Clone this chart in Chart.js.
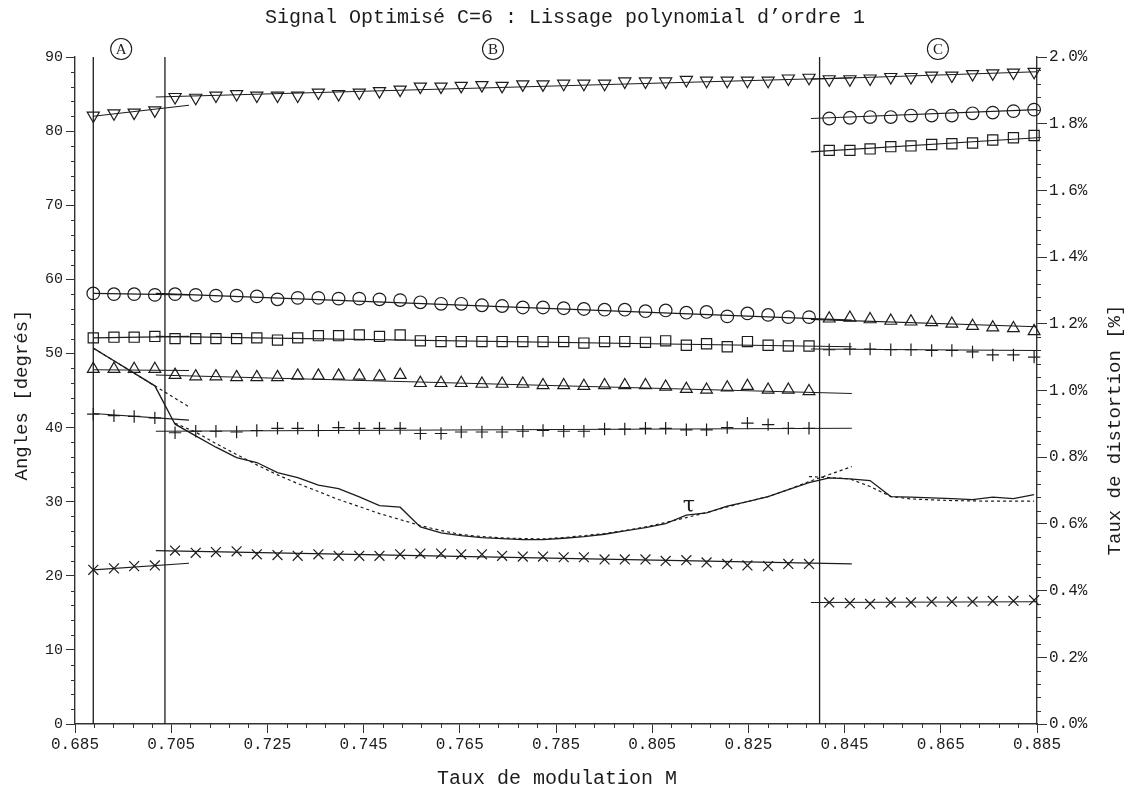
<!DOCTYPE html>
<html><head><meta charset="utf-8">
<script src="https://cdn.jsdelivr.net/npm/chart.js@4.4.1/dist/chart.umd.min.js"></script>
<style>html,body{margin:0;padding:0;background:#fff}#wrap{width:1130px;height:796px}</style>
</head><body><div id="wrap"><canvas id="c" width="1130" height="796"></canvas></div>
<script>
// ---- data ----
const M = [0.6888,0.6931,0.6973,0.7016,0.7058,0.7101,0.7143,0.7186,0.7228,0.7271,
           0.7313,0.7356,0.7398,0.7441,0.7483,0.7526,0.7568,0.7611,0.7653,0.7696,
           0.7738,0.7781,0.7823,0.7866,0.7908,0.7951,0.7993,0.8036,0.8078,0.8121,
           0.8163,0.8206,0.8248,0.8291,0.8333,0.8376,0.8418,0.8461,0.8503,0.8546,
           0.8588,0.8631,0.8673,0.8716,0.8758,0.8801,0.8844];
const triDown = [82.1,82.4,82.5,82.8, 84.6,84.5,84.8,85.0,84.8,84.8,84.8,85.2,85.0,85.2,
                 85.4,85.6,86.0,86.0,86.1,86.2,86.1,86.3,86.3,86.4,86.4,86.4,86.7,86.7,86.7,86.9,
                 86.8,86.8,86.8,86.8,87.1,87.2, 87.0,87.0,87.1,87.3,87.3,87.5,87.5,87.7,87.8,87.9,88.0];
const circle = [58.1,58.0,58.0,57.9, 58.0,57.9,57.8,57.8,57.7,57.3,57.5,57.5,57.4,57.4,
                57.3,57.2,56.9,56.7,56.7,56.5,56.4,56.2,56.2,56.1,56.0,55.9,55.9,55.7,55.8,55.5,
                55.6,55.0,55.4,55.2,54.9,54.9, 81.7,81.8,81.9,81.9,82.1,82.1,82.1,82.4,82.5,82.7,82.9];
const square = [52.1,52.2,52.2,52.3, 52.0,52.0,52.0,52.0,52.1,51.8,52.1,52.4,52.4,52.5,
                52.3,52.5,51.7,51.6,51.6,51.6,51.6,51.6,51.6,51.6,51.4,51.6,51.6,51.5,51.7,51.1,
                51.3,50.9,51.6,51.1,51.0,51.0, 77.4,77.4,77.6,77.9,78.0,78.2,78.3,78.4,78.8,79.1,79.4];
const triUp = [47.9,47.9,47.9,47.9, 47.1,46.9,46.9,46.8,46.8,46.8,47.0,47.0,47.0,47.0,
               46.9,47.1,46.0,46.0,46.0,45.9,45.9,45.9,45.7,45.7,45.6,45.7,45.7,45.7,45.5,45.2,
               45.1,45.4,45.6,45.1,45.1,44.9, 54.7,54.8,54.6,54.4,54.3,54.2,54.0,53.7,53.5,53.4,53.0];
const plus = [41.8,41.6,41.5,41.3, 39.3,39.5,39.5,39.4,39.6,39.9,39.9,39.6,40.0,39.9,
              39.9,39.9,39.2,39.2,39.4,39.4,39.4,39.5,39.6,39.5,39.5,39.8,39.8,39.9,39.9,39.7,
              39.7,40.0,40.6,40.4,39.9,39.9, 50.5,50.6,50.6,50.5,50.5,50.4,50.4,50.2,49.8,49.8,49.5];
const cross = [20.8,21.0,21.3,21.4, 23.4,23.1,23.2,23.3,22.9,22.8,22.7,22.9,22.7,22.7,
               22.7,22.9,23.0,23.0,22.9,22.9,22.7,22.6,22.6,22.5,22.5,22.2,22.2,22.2,22.0,22.1,
               21.8,21.6,21.4,21.3,21.6,21.6, 16.4,16.3,16.2,16.4,16.4,16.5,16.5,16.5,16.6,16.6,16.7];
const tau = [1.127,1.089,1.052,1.014,0.899,0.864,0.830,0.799,0.784,0.754,
             0.739,0.716,0.706,0.681,0.655,0.650,0.591,0.573,0.565,0.559,
             0.556,0.553,0.553,0.557,0.562,0.569,0.579,0.589,0.601,0.626,
             0.633,0.653,0.667,0.682,0.703,0.724,0.738,0.735,0.730,0.682,
             0.680,0.678,0.676,0.673,0.680,0.676,0.688];
// fitted distortion (dotted), per region
const tauFitAM = [0.6888, 0.7087];
const tauFitA = [1.127, 0.951];
const tauFitBM = M.slice(4, 37).concat([0.8465]);
const tauFitB = [0.902,0.875,0.841,0.808,0.777,0.747,0.721,0.697,0.673,0.652,
                 0.631,0.613,0.595,0.580,0.568,0.562,0.558,0.556,0.555,0.559,
                 0.565,0.571,0.580,0.591,0.604,0.619,0.634,0.651,0.667,0.682,
                 0.703,0.727,0.748,0.772];
const tauFitCM = M.slice(35);
const tauFitC = [0.742,0.739,0.735,0.712,0.682,0.675,0.672,0.670,0.669,0.668,0.668,0.668];
// linear fits of the angles: [start, end] in each region
const fitRangeA = [0.6888, 0.7087];
const fitRangeB = [0.7018, 0.8465];
const fitRangeC = [0.8380, 0.885];
const triDownFit = [[82.0, 83.5], [84.6, 87.2], [87.0, 88.0]];
const circleFit  = [[58.1, 57.9], [58.1, 54.5], [81.7, 82.9]];
const squareFit  = [[52.1, 52.3], [52.3, 50.9], [77.2, 79.1]];
const triUpFit   = [[47.8, 47.7], [47.1, 44.6], [54.6, 53.6]];
const plusFit    = [[41.9, 41.0], [39.5, 39.9], [50.6, 50.4]];
const crossFit   = [[20.8, 21.7], [23.4, 21.6], [16.4, 16.5]];
// region boundaries and labels
const regionLines = [0.6888, 0.7037, 0.8398];
const regionNames = ['A', 'B', 'C'];
const regionLabelM = [0.6946, 0.7719, 0.8644];
const tauLabel = {m: 0.8126, v: 0.652};

// ---- chart ----
const INK = '#1c1c1c';
const MONO = '"Liberation Mono", "DejaVu Sans Mono", monospace';
const pts = (xs, ys) => ys.map((v, i) => ({x: xs[i], y: v}));
function markers(vals, style, r, rot) {
  return {type: 'scatter', data: pts(M, vals), yAxisID: 'y', showLine: false, clip: false,
    pointStyle: style, pointRadius: r, pointHoverRadius: r, pointRotation: rot || 0,
    pointBorderColor: INK, pointBackgroundColor: 'rgba(0,0,0,0)', pointBorderWidth: 1.2,
    borderColor: INK, backgroundColor: 'rgba(0,0,0,0)'};
}
function line(data, axis, width, dash) {
  return {type: 'line', data, yAxisID: axis, borderColor: INK, borderWidth: width,
    borderDash: dash || [], pointRadius: 0, pointHoverRadius: 0, fill: false, tension: 0};
}
const ranges = [fitRangeA, fitRangeB, fitRangeC];
const datasets = [];
[triDownFit, circleFit, squareFit, triUpFit, plusFit, crossFit].forEach(f => {
  f.forEach((ends, k) => datasets.push(line(pts(ranges[k], ends), 'y', 1.1)));
});
regionLines.forEach(m => datasets.push(line([{x: m, y: 0}, {x: m, y: 90}], 'y', 1.3)));
datasets.push(line(pts(M, tau), 'y2', 1.3));
datasets.push(line(pts(tauFitAM, tauFitA), 'y2', 1.2, [3, 3]));
datasets.push(line(pts(tauFitBM, tauFitB), 'y2', 1.2, [3, 3]));
datasets.push(line(pts(tauFitCM, tauFitC), 'y2', 1.2, [3, 3]));
datasets.push(markers(triDown, 'triangle', 7, 180));
datasets.push(markers(circle, 'circle', 6.3));
datasets.push(markers(square, 'rect', 7.2));
datasets.push(markers(triUp, 'triangle', 6.8));
datasets.push(markers(plus, 'cross', 6.2));
datasets.push(markers(cross, 'crossRot', 7));

const deco = {
  id: 'deco',
  afterDraw(chart) {
    const ctx = chart.ctx, a = chart.chartArea;
    const x = chart.scales.x, y = chart.scales.y, y2 = chart.scales.y2;
    ctx.save();
    ctx.strokeStyle = '#333'; ctx.lineWidth = 1;
    ctx.beginPath();
    for (let v = 0.689; v < 0.885; v += 0.004) {
      if (Math.abs(((v - 0.685) / 0.02) - Math.round((v - 0.685) / 0.02)) < 1e-6) continue;
      const px = Math.round(x.getPixelForValue(v)) + 0.5;
      ctx.moveTo(px, a.bottom); ctx.lineTo(px, a.bottom + 4);
    }
    for (let v = 2; v < 90; v += 2) {
      if (v % 10 === 0) continue;
      const py = Math.round(y.getPixelForValue(v)) + 0.5;
      ctx.moveTo(a.left, py); ctx.lineTo(a.left - 4, py);
    }
    for (let k = 1; k < 50; k++) {
      if (k % 5 === 0) continue;
      const py = Math.round(y2.getPixelForValue(k * 0.04)) + 0.5;
      ctx.moveTo(a.right, py); ctx.lineTo(a.right + 4, py);
    }
    ctx.stroke();
    ctx.fillStyle = INK;
    ctx.textAlign = 'center'; ctx.textBaseline = 'middle';
    ctx.font = '20px ' + MONO;
    ctx.fillText("Signal Optimisé C=6 : Lissage polynomial d\u2019ordre 1", 565, 18);
    ctx.fillText('Taux de modulation M', 557, 779);
    ctx.font = '19px ' + MONO;
    ctx.save(); ctx.translate(22, 395); ctx.rotate(-Math.PI / 2);
    ctx.fillText('Angles [degrés]', 0, 0); ctx.restore();
    ctx.save(); ctx.translate(1115, 430); ctx.rotate(-Math.PI / 2);
    ctx.fillText('Taux de distortion [%]', 0, 0); ctx.restore();
    ctx.lineWidth = 1.1; ctx.strokeStyle = INK;
    ctx.font = '15px "Liberation Serif", serif';
    regionLabelM.forEach((m, i) => {
      const cx = x.getPixelForValue(m), cy = a.top - 8;
      ctx.beginPath(); ctx.arc(cx, cy, 10.5, 0, Math.PI * 2); ctx.stroke();
      ctx.fillText(regionNames[i], cx, cy + 1);
    });
    ctx.font = '22px "DejaVu Serif", serif';
    ctx.fillText('\u03C4', x.getPixelForValue(tauLabel.m), y2.getPixelForValue(tauLabel.v));
    ctx.restore();
  }
};

new Chart(document.getElementById('c'), {
  type: 'scatter',
  data: {datasets},
  plugins: [deco],
  options: {
    responsive: false, animation: false, devicePixelRatio: 1,
    layout: {padding: {top: 57, left: 0, right: 0, bottom: 0}},
    plugins: {legend: {display: false}, tooltip: {enabled: false}, title: {display: false}},
    scales: {
      x: {type: 'linear', position: 'bottom', min: 0.685, max: 0.885,
        afterFit: s => { s.height = 72; },
        ticks: {stepSize: 0.02, autoSkip: false, maxRotation: 0, padding: 2, color: INK,
          font: {family: MONO, size: 16}, callback: v => Number(v).toFixed(3)},
        grid: {drawOnChartArea: false, drawTicks: true, tickLength: 9, color: '#333', lineWidth: 1},
        border: {display: true, color: '#333', width: 1.4}},
      y: {type: 'linear', position: 'left', min: 0, max: 90,
        afterFit: s => { s.width = 75; },
        ticks: {stepSize: 10, padding: 3, color: INK, font: {family: MONO, size: 15}},
        grid: {drawOnChartArea: false, drawTicks: true, tickLength: 9, color: '#333', lineWidth: 1},
        border: {display: true, color: '#333', width: 1.4}},
      y2: {type: 'linear', position: 'right', min: 0, max: 2,
        afterFit: s => { s.width = 93; },
        ticks: {stepSize: 0.2, padding: 2, color: INK, font: {family: MONO, size: 16},
          callback: v => Number(v).toFixed(1) + '%'},
        grid: {drawOnChartArea: false, drawTicks: true, tickLength: 10, color: '#333', lineWidth: 1},
        border: {display: true, color: '#333', width: 1.4}}
    }
  }
});
</script>
</body></html>
